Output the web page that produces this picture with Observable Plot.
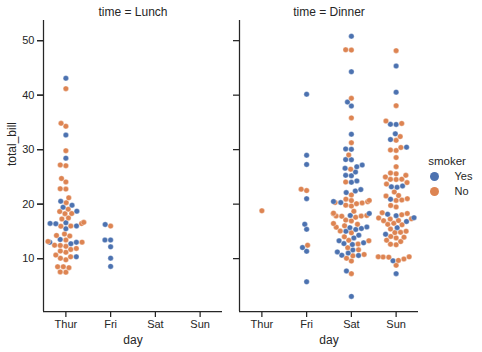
<!DOCTYPE html>
<html><head><meta charset="utf-8">
<script src="https://cdn.jsdelivr.net/npm/d3@7"></script>
<script src="https://cdn.jsdelivr.net/npm/@observablehq/plot@0.6"></script>
<style>
body{margin:0;background:#fff;}
#wrap{position:relative;width:482px;height:352px;font-family:"Liberation Sans",Arial,sans-serif;color:#262626;background:#fff;}
#main{position:absolute;left:0;top:0;}
#legend{position:absolute;left:420px;top:150px;}
</style></head><body>
<div id="wrap"><div id="main"></div><div id="legend"></div></div>
<script>
const days = ["Thur", "Fri", "Sat", "Sun"];
const times = ["Lunch", "Dinner"];
const smokerLevels = ["Yes", "No"];
const yTicks = [10, 20, 30, 40, 50];
const xDomain = [-0.5, 3.5];
const yDomain = [0.3, 53.7];

// total_bill values per panel / day / smoker
const lunchThurYes = [19.44, 32.68, 16.00, 19.81, 28.44, 15.48, 16.58, 10.34, 43.11, 13.00, 13.51, 18.71, 12.74, 13.00, 16.40, 20.53, 16.47];
const lunchThurNo = [27.20, 22.76, 17.29, 16.66, 10.07, 15.98, 34.83, 13.03, 18.28, 24.71, 21.16, 10.65, 12.43, 24.08, 11.69, 13.42, 14.26, 15.95, 12.48, 29.80, 8.52, 14.52, 11.38, 22.82, 19.08, 20.27, 11.17, 12.26, 18.26, 8.51, 10.33, 14.15, 13.16, 17.47, 34.30, 41.19, 27.05, 16.43, 8.35, 18.64, 11.87, 9.78, 7.51, 7.56];
const lunchFriYes = [12.16, 13.42, 8.58, 13.42, 16.27, 10.09];
const lunchFriNo = [15.98];
const dinnerThurNo = [18.78];
const dinnerFriYes = [28.97, 5.75, 16.32, 40.17, 27.28, 12.03, 21.01, 11.35, 15.38];
const dinnerFriNo = [22.49, 22.75, 12.46];
const dinnerSatYes = [38.01, 11.24, 20.29, 13.81, 11.02, 18.29, 3.07, 15.01, 26.86, 25.28, 17.92, 44.30, 22.42, 15.36, 20.49, 25.21, 14.31, 10.59, 10.63, 50.81, 15.81, 26.59, 38.73, 24.27, 12.76, 30.06, 25.89, 13.27, 28.17, 12.90, 28.15, 11.59, 7.74, 30.14, 22.12, 24.01, 15.69, 15.53, 12.60, 32.83, 27.18, 22.67];
const dinnerSatNo = [20.65, 17.92, 20.29, 15.77, 39.42, 19.82, 17.81, 13.37, 12.69, 21.70, 19.65, 9.55, 18.35, 15.06, 20.69, 17.78, 24.06, 16.31, 16.93, 18.69, 31.27, 16.04, 26.41, 48.27, 17.59, 20.08, 16.45, 20.23, 12.02, 17.07, 14.73, 10.51, 20.92, 18.24, 14.00, 7.25, 48.33, 20.45, 13.28, 11.61, 10.77, 10.07, 35.83, 29.03, 17.82];
const dinnerSunYes = [17.51, 7.25, 31.85, 16.82, 32.90, 17.89, 14.48, 9.60, 34.63, 34.65, 23.33, 45.35, 23.17, 40.55, 20.90, 30.46, 18.15, 23.10, 15.69];
const dinnerSunNo = [16.99, 10.34, 21.01, 23.68, 24.59, 25.29, 8.77, 26.88, 15.04, 14.78, 10.27, 35.26, 15.42, 18.43, 14.83, 21.58, 10.33, 16.29, 16.97, 17.46, 13.94, 9.68, 30.40, 18.29, 22.23, 32.40, 28.55, 18.04, 12.54, 10.29, 34.81, 9.94, 25.56, 19.49, 38.07, 23.95, 25.71, 17.31, 29.93, 14.07, 13.13, 17.26, 24.55, 19.77, 29.85, 48.17, 25.00, 13.39, 16.49, 21.50, 12.66, 16.21, 13.81, 24.52, 20.76, 31.71, 20.69];

const groups = [
  {time: "Lunch", day: "Thur", smoker: "Yes", values: lunchThurYes},
  {time: "Lunch", day: "Thur", smoker: "No", values: lunchThurNo},
  {time: "Lunch", day: "Fri", smoker: "Yes", values: lunchFriYes},
  {time: "Lunch", day: "Fri", smoker: "No", values: lunchFriNo},
  {time: "Dinner", day: "Thur", smoker: "No", values: dinnerThurNo},
  {time: "Dinner", day: "Fri", smoker: "Yes", values: dinnerFriYes},
  {time: "Dinner", day: "Fri", smoker: "No", values: dinnerFriNo},
  {time: "Dinner", day: "Sat", smoker: "Yes", values: dinnerSatYes},
  {time: "Dinner", day: "Sat", smoker: "No", values: dinnerSatNo},
  {time: "Dinner", day: "Sun", smoker: "Yes", values: dinnerSunYes},
  {time: "Dinner", day: "Sun", smoker: "No", values: dinnerSunNo}
];

// layout
const W = 482, H = 352, mL = 43, mR = 64, mT = 20, mB = 41;
const gap = 17;
const panelW = (W - mL - mR - gap) / 2;
const pxPerX = panelW / (xDomain[1] - xDomain[0]);
const pxPerY = (H - mT - mB) / (yDomain[1] - yDomain[0]);
const R = 2.71; // swarm radius in px

// seaborn-like beeswarm, computed in pixel space
function swarm(points) {
  const sorted = points.slice().sort((a, b) => a.total_bill - b.total_bill);
  const placed = [];
  for (const p of sorted) {
    const py = p.total_bill * pxPerY;
    if (!placed.length) { placed.push({p, x: 0, y: py}); continue; }
    const nb = [];
    for (let j = placed.length - 1; j >= 0; j--) {
      if (py - placed[j].y < 2 * R) nb.push(placed[j]); else break;
    }
    const cands = [0];
    for (const q of nb) {
      const dy = py - q.y;
      const dx = Math.sqrt(Math.max(4 * R * R - dy * dy, 0)) * 1.05;
      cands.push(q.x - dx, q.x + dx);
    }
    const order = cands.map((c, i) => [c, i]).sort((a, b) => Math.abs(a[0]) - Math.abs(b[0]) || a[1] - b[1]);
    let chosen = order[0][0];
    for (const [c] of order) {
      let ok = true;
      for (const q of nb) {
        const dx = c - q.x, dy = py - q.y;
        if (dx * dx + dy * dy < 4 * R * R - 1e-9) { ok = false; break; }
      }
      if (ok) { chosen = c; break; }
    }
    placed.push({p, x: chosen, y: py});
  }
  const gutter = 0.4;
  return placed.map(({p, x}) => {
    let off = x / pxPerX;
    off = Math.max(-gutter, Math.min(gutter, off));
    return {...p, x: days.indexOf(p.day) + off};
  });
}

const rows = [];
for (const t of times) for (const d of days) {
  const pts = [];
  for (const g of groups) if (g.time === t && g.day === d)
    for (const v of g.values) pts.push({time: t, day: d, smoker: g.smoker, total_bill: v});
  if (pts.length) rows.push(...swarm(pts));
}

const ink = "#262626";
const colors = ["#4C72B0", "#DD8452"];
const font = "Liberation Sans, Arial, sans-serif";

const chart = Plot.plot({
  width: W, height: H,
  marginLeft: mL, marginRight: mR, marginTop: mT, marginBottom: mB,
  style: {fontFamily: font, fontSize: "11px", color: ink, background: "white"},
  fx: {domain: times, paddingInner: gap / (panelW + gap), paddingOuter: 0, axis: null, label: null},
  x: {domain: xDomain},
  y: {domain: yDomain},
  color: {domain: smokerLevels, range: colors},
  marks: [
    Plot.axisY(yTicks, {tickSize: 6, strokeWidth: 1.25, tickFormat: () => "", label: null, facetAnchor: null}),
    Plot.axisY(yTicks, {tickSize: 6, strokeWidth: 1.25, fontSize: 11, tickPadding: 3, label: null}),
    Plot.axisX([0, 1, 2, 3], {tickFormat: i => days[i], tickSize: 6, strokeWidth: 1.25, fontSize: 11, label: null, tickPadding: 3}),
    Plot.ruleX([xDomain[0]], {stroke: ink, strokeWidth: 1.25}),
    Plot.ruleY([yDomain[0]], {stroke: ink, strokeWidth: 1.25}),
    Plot.dot(rows, {fx: "time", x: "x", y: "total_bill", fill: "smoker", r: 2.75, stroke: "white", strokeWidth: 0.35}),
    Plot.text(times, {fx: d => d, text: d => `time = ${d}`, frameAnchor: "top", dy: -8.5, lineAnchor: "middle", fontSize: 12, fill: ink}),
    Plot.text(times, {fx: d => d, text: () => "day", frameAnchor: "bottom", dy: 29, lineAnchor: "middle", fontSize: 12, fill: ink}),
    Plot.text(["Lunch"], {fx: d => d, text: () => "total_bill", frameAnchor: "left", dx: -31, rotate: -90, lineAnchor: "middle", fontSize: 12, fill: ink})
  ]
});
document.getElementById("main").appendChild(chart);

const legend = Plot.plot({
  width: 53, height: 52, margin: 0,
  style: {fontFamily: font, fontSize: "11px", color: ink, background: "transparent"},
  x: {axis: null},
  y: {type: "point", domain: smokerLevels, range: [25.7, 41], padding: 0, axis: null},
  color: {domain: smokerLevels, range: colors},
  marks: [
    Plot.text(["smoker"], {frameAnchor: "top", dy: 10.7, lineAnchor: "middle", fontSize: 11.5, fill: ink}),
    Plot.dot(smokerLevels, {y: d => d, fill: d => d, r: 4.5, frameAnchor: "left", dx: 14}),
    Plot.text(smokerLevels, {y: d => d, text: d => d, frameAnchor: "left", dx: 34, textAnchor: "start", lineAnchor: "middle", fontSize: 11, fill: ink})
  ]
});
document.getElementById("legend").appendChild(legend);
</script>
</body></html>
